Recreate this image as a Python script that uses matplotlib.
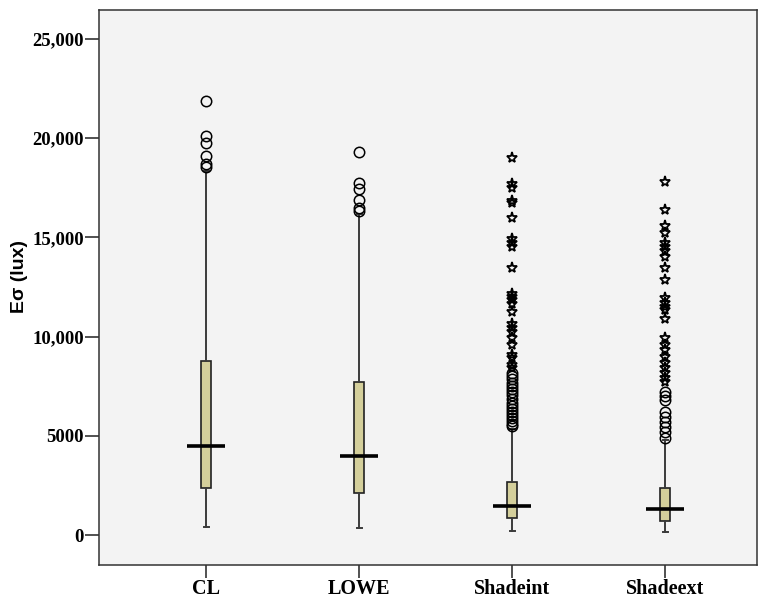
import matplotlib
matplotlib.use("Agg")
import matplotlib.pyplot as plt
import numpy as np

categories = ["CL", "LOWE", "Shadeint", "Shadeext"]
whislo = [400, 350, 200, 150]
q1 = [2370, 2120, 860, 710]
med = [4490, 3980, 1460, 1310]
q3 = [8770, 7710, 2670, 2370]
whishi = [18350, 16180, 5350, 4800]

circles_cl = [21880, 20110, 19760, 19100, 18700, 18550]
circles_lowe = [19300, 17740, 17440, 16880, 16480, 16330]
circles_shadeint = [8150, 8000, 7850, 7650, 7500, 7350, 7200, 7050, 6850, 6650,
                    6500, 6350, 6200, 6050, 5900, 5750, 5600, 5500]
stars_shadeint = [19000, 17690, 17490, 16830, 16730, 15980, 14920, 14720, 14520,
                  13460, 12150, 12000, 11840, 11640, 11240, 10630, 10430, 10230,
                  9930, 9580, 9070, 8920, 8570, 8420]
circles_shadeext = [7210, 7000, 6800, 6200, 5950, 5700, 5440, 5190, 4890]
stars_shadeext = [17790, 16380, 15570, 15220, 14720, 14520, 14310, 14010, 13460,
                  12850, 11940, 11690, 11490, 11340, 10890, 9930, 9580, 9320,
                  8970, 8670, 8420, 8160, 7910, 7710]

circles = [circles_cl, circles_lowe, circles_shadeint, circles_shadeext]
stars = [[], [], stars_shadeint, stars_shadeext]

yticks = [0, 5000, 10000, 15000, 20000, 25000]
ytick_labels = ["0", "5000", "10,000", "15,000", "20,000", "25,000"]

fig = plt.figure(figsize=(7.62, 6.01), dpi=100)
ax = fig.add_axes([0.130, 0.060, 0.8634, 0.9234])
ax.set_facecolor("#F3F3F3")

positions = np.arange(1, len(categories) + 1)
stats = []
for i, c in enumerate(categories):
    stats.append(dict(label=c, whislo=whislo[i], q1=q1[i], med=med[i], q3=q3[i],
                      whishi=whishi[i], fliers=[]))

ax.bxp(stats, positions=positions, widths=0.065, patch_artist=True,
       showfliers=False,
       boxprops=dict(facecolor="#D4CF9B", edgecolor="#222222", linewidth=1.2),
       whiskerprops=dict(color="#3A3A3A", linewidth=1.4),
       capprops=dict(color="#3A3A3A", linewidth=1.4),
       medianprops=dict(linewidth=0))
ax.hlines(med, positions - 0.125, positions + 0.125, colors="black", linewidth=2.6, zorder=5)

for p, vals in zip(positions, circles):
    if vals:
        ax.plot([p] * len(vals), vals, linestyle="none", marker="o", markersize=7.5,
                markerfacecolor="none", markeredgecolor="black", markeredgewidth=1.1, zorder=6)
for p, vals in zip(positions, stars):
    if vals:
        ax.plot([p] * len(vals), vals, linestyle="none", marker="*", markersize=8,
                markerfacecolor="none", markeredgecolor="black", markeredgewidth=1.3, zorder=6)

ax.set_xlim(0.30, 4.60)
ax.set_ylim(-1500, 26460)
ax.set_xticks(positions)
ax.set_xticklabels(categories, fontfamily="Liberation Serif", fontweight="bold", fontsize=14.5)
ax.set_yticks(yticks)
ax.set_yticklabels(ytick_labels, fontfamily="Liberation Serif", fontweight="bold", fontsize=13.5)
ax.tick_params(axis="y", direction="out", length=10, width=1.2, color="#333333", pad=1)
ax.tick_params(axis="x", direction="out", length=9, width=1.2, color="#333333", pad=1)

for s in ax.spines.values():
    s.set_color("#333333")
    s.set_linewidth(1.1)

ax.set_ylabel("Eσ (lux)", fontfamily="Liberation Sans", fontweight="bold", fontsize=14)
ax.yaxis.set_label_coords(-0.108, 0.52)

fig.savefig("out.png", dpi=100)
